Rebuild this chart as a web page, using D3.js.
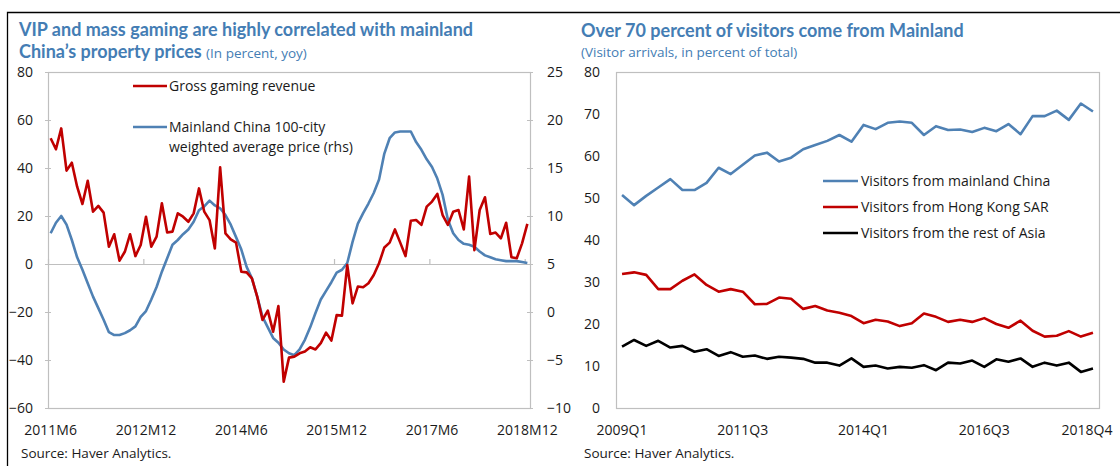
<!DOCTYPE html>
<html>
<head>
<meta charset="utf-8">
<script src="https://cdn.jsdelivr.net/npm/d3@7"></script>
<style>
	html, body { margin: 0; padding: 0; background: white; }
	#outer { width: 1120px; height: 466px; }
	text { font-family: 'Segoe UI', 'Open Sans', sans-serif; fill: #1a1a1a; }
	.title { font-family: 'Segoe UI', Lato, sans-serif; font-weight: 700; fill: #447db4; }
	.subtitle { fill: #447db4; }
</style>
</head>
<body>
<div id="outer"></div>
<script>

////////////////////////////////////////////////////////////////
	// DATA
////////////////////////////////////////////////////////////////

// LEFT PANEL: monthly, 2011M6 .. 2018M12 //
const gamingMonths = d3.range(91).map(i => {
	const m = 5 + i;
	return (2011 + Math.floor(m / 12)) + 'M' + (m % 12 + 1);
});
const gamingRevenue = [
	52.4, 47.8, 56.5, 38.9, 42.2, 32.2, 25.0, 34.7, 21.8, 24.2,
	21.4, 7.2, 12.4, 1.4, 5.1, 12.4, 3.3, 7.9, 19.7, 7.2,
	11.4, 25.3, 13.1, 13.5, 21.1, 19.7, 17.6, 21.1, 31.5, 21.8,
	18.3, 6.5, 40.3, 12.8, 10.3, 8.9, -3.2, -3.5, -6.0, -13.6,
	-23.3, -19.4, -28.2, -17.5, -49.0, -39.0, -38.6, -37.2, -36.5, -34.7,
	-35.6, -33.0, -28.6, -31.9, -21.3, -21.5, -0.4, -16.4, -9.4, -9.7,
	-8.0, -4.6, 0.3, 6.9, 8.9, 14.4, 8.9, 3.3, 18.0, 18.3,
	16.3, 23.9, 26.0, 29.2, 20.4, 16.3, 21.8, 22.5, 14.4, 36.4,
	5.8, 22.5, 27.8, 12.5, 13.1, 10.7, 17.2, 2.8, 2.4, 8.6,
	16.7
];
const propertyPrices = [
	8.2, 9.3, 10.0, 9.1, 7.5, 5.7, 4.4, 3.0, 1.6, 0.4,
	-0.8, -2.1, -2.4, -2.4, -2.2, -1.9, -1.5, -0.5, 0.1, 1.3,
	2.6, 4.2, 5.6, 7.0, 7.5, 8.1, 8.6, 9.4, 10.6, 11.0,
	11.6, 11.1, 10.8, 10.1, 9.1, 7.8, 6.5, 4.7, 3.5, 1.6,
	-0.5, -1.6, -2.7, -3.2, -3.9, -4.3, -4.5, -3.9, -2.9, -1.6,
	-0.1, 1.3, 2.2, 3.1, 4.1, 4.4, 5.1, 7.3, 9.2, 10.3,
	11.3, 12.4, 13.8, 16.5, 18.1, 18.7, 18.8, 18.8, 18.8, 17.7,
	16.9, 15.9, 15.1, 13.9, 12.2, 9.6, 8.2, 7.5, 7.1, 7.0,
	6.8, 6.3, 5.9, 5.7, 5.5, 5.4, 5.3, 5.3, 5.3, 5.2,
	5.1
];
const gamingTickLabels = ['2011M6', '2012M12', '2014M6', '2015M12', '2017M6', '2018M12'];
const gamingLeftTicks = [-60, -40, -20, 0, 20, 40, 60, 80];
const gamingRightTicks = [-10, -5, 0, 5, 10, 15, 20, 25];

// RIGHT PANEL: quarterly, 2009Q1 .. 2018Q4 //
const visitorQuarters = d3.range(40).map(i => (2009 + Math.floor(i / 4)) + 'Q' + (i % 4 + 1));
const mainlandShare = [
	50.7, 48.3, 50.5, 52.5, 54.5, 51.9, 51.9, 53.6, 57.2, 55.7,
	57.9, 60.1, 60.8, 58.7, 59.6, 61.6, 62.6, 63.6, 65.0, 63.4,
	67.4, 66.4, 67.9, 68.2, 67.9, 65.0, 67.1, 66.2, 66.3, 65.7,
	66.7, 65.9, 67.6, 65.2, 69.5, 69.5, 70.8, 68.6, 72.5, 70.6
];
const hongKongShare = [
	31.9, 32.3, 31.7, 28.3, 28.3, 30.3, 31.8, 29.3, 27.7, 28.3,
	27.7, 24.7, 24.8, 26.3, 26.0, 23.6, 24.3, 23.2, 22.7, 21.9,
	20.2, 21.0, 20.6, 19.5, 20.2, 22.5, 21.7, 20.5, 21.0, 20.5,
	21.4, 20.0, 19.1, 20.8, 18.4, 17.0, 17.2, 18.3, 17.0, 17.9
];
const restOfAsiaShare = [
	14.6, 16.2, 14.8, 16.0, 14.4, 14.8, 13.4, 14.0, 12.4, 13.3,
	12.2, 12.5, 11.7, 12.2, 12.0, 11.7, 10.8, 10.8, 10.1, 11.8,
	9.8, 10.1, 9.4, 9.8, 9.6, 10.2, 9.0, 10.8, 10.6, 11.3,
	9.8, 11.6, 11.0, 11.8, 9.8, 10.8, 10.1, 10.8, 8.6, 9.4
];
const visitorTickLabels = ['2009Q1', '2011Q3', '2014Q1', '2016Q3', '2018Q4'];
const visitorTicks = [0, 10, 20, 30, 40, 50, 60, 70, 80];

const visitorSeries = [
	{ name: 'Visitors from mainland China', values: mainlandShare, color: '#4f81b4' },
	{ name: 'Visitors from Hong Kong SAR', values: hongKongShare, color: '#c00000' },
	{ name: 'Visitors from the rest of Asia', values: restOfAsiaShare, color: '#000000' }
];


////////////////////////////////////////////////////////////////
	// SETUP
////////////////////////////////////////////////////////////////
const jqWidth = 1120;
const jqHeight = 466;

const colors = { red: '#c00000', blue: '#4f81b4', grid: '#bfbfbf' };
const lineWidth = 2.6;
const titleSize = '18px';

const leftPlot = { left: 48, right: 530, top: 72, bottom: 408 };
const rightPlot = { left: 616, right: 1099, top: 72, bottom: 408 };

const svg = d3.select('#outer').append('svg')
	.attr('width', jqWidth)
	.attr('height', jqHeight);

// OUTER FRAME //
svg.append('path')
	.attr('d', `M7.5,${jqHeight} V12.5 H${jqWidth}`)
	.attr('fill', 'none')
	.attr('stroke', '#000')
	.attr('stroke-width', 1.3);


////////////////////////////////////////////////////////////////
	// LEFT PANEL
////////////////////////////////////////////////////////////////
const leftGroup = svg.append('g').attr('class', 'leftPanel');

leftGroup.append('text').attr('class', 'title')
	.attr('x', 19).attr('y', 36).style('font-size', titleSize)
	.text('VIP and mass gaming are highly correlated with mainland');
const leftTitle2 = leftGroup.append('text').attr('class', 'title')
	.attr('x', 19).attr('y', 58).style('font-size', titleSize);
leftTitle2.append('tspan').text('China\u2019s property prices ');
leftTitle2.append('tspan').attr('class', 'subtitle')
	.style('font-weight', 400).style('font-size', '13.5px')
	.style('font-family', "'Segoe UI', 'Open Sans', sans-serif")
	.text('(In percent, yoy)');

const xLeft = d3.scaleBand().domain(gamingMonths).range([leftPlot.left, leftPlot.right]).padding(0);
const yLeft = d3.scaleLinear().domain([-60, 80]).range([leftPlot.bottom, leftPlot.top]);
const yRightAxis = d3.scaleLinear().domain([-10, 25]).range([leftPlot.bottom, leftPlot.top]);
const cxLeft = d => xLeft(d) + xLeft.bandwidth() / 2;

// plot frame
leftGroup.append('rect')
	.attr('x', leftPlot.left + 0.5).attr('y', leftPlot.top + 0.5)
	.attr('width', leftPlot.right - leftPlot.left).attr('height', leftPlot.bottom - leftPlot.top)
	.attr('fill', 'none').attr('stroke', colors.grid).attr('stroke-width', 1.2);

// y axes
const leftAxis = leftGroup.append('g')
	.attr('transform', `translate(${leftPlot.left},0)`)
	.call(d3.axisLeft(yLeft).tickValues(gamingLeftTicks).tickSize(3).tickPadding(12));
const rightAxis = leftGroup.append('g')
	.attr('transform', `translate(${leftPlot.right},0)`)
	.call(d3.axisRight(yRightAxis).tickValues(gamingRightTicks).tickSize(3).tickPadding(14));
[leftAxis, rightAxis].forEach(ax => {
	ax.select('.domain').remove();
	ax.selectAll('line').attr('stroke', colors.grid).attr('x1', ax === leftAxis ? 3 : -3);
	ax.selectAll('text').style('font-size', '14px').attr('fill', '#1a1a1a');
});

// zero line with upward ticks
const zeroY = yLeft(0);
leftGroup.append('line')
	.attr('x1', leftPlot.left).attr('x2', leftPlot.right)
	.attr('y1', zeroY + 0.5).attr('y2', zeroY + 0.5)
	.attr('stroke', colors.grid).attr('stroke-width', 1.2);
leftGroup.selectAll('.xtick').data(gamingTickLabels)
	.join('line').attr('class', 'xtick')
	.attr('x1', d => xLeft(d) + 0.5).attr('x2', d => xLeft(d) + 0.5)
	.attr('y1', zeroY - 5).attr('y2', zeroY)
	.attr('stroke', colors.grid).attr('stroke-width', 1.2);

// x labels
const bottomAxis = leftGroup.append('g')
	.attr('transform', `translate(0,${leftPlot.bottom})`)
	.call(d3.axisBottom(xLeft).tickValues(gamingTickLabels).tickSize(0).tickPadding(17));
bottomAxis.select('.domain').remove();
bottomAxis.selectAll('text').style('font-size', '14px').attr('fill', '#1a1a1a');

// lines
leftGroup.append('path')
	.datum(propertyPrices)
	.attr('fill', 'none').attr('stroke', colors.blue).attr('stroke-width', lineWidth)
	.attr('stroke-linejoin', 'round')
	.attr('d', d3.line().x((d, i) => cxLeft(gamingMonths[i])).y(d => yRightAxis(d)));
leftGroup.append('path')
	.datum(gamingRevenue)
	.attr('fill', 'none').attr('stroke', colors.red).attr('stroke-width', lineWidth)
	.attr('stroke-linejoin', 'round')
	.attr('d', d3.line().x((d, i) => cxLeft(gamingMonths[i])).y(d => yLeft(d)));

// legend
const leftLegend = leftGroup.append('g').attr('class', 'legend');
leftLegend.append('line').attr('x1', 133).attr('x2', 167).attr('y1', 86).attr('y2', 86)
	.attr('stroke', colors.red).attr('stroke-width', lineWidth);
leftLegend.append('text').attr('x', 169).attr('y', 91).style('font-size', '14px')
	.text('Gross gaming revenue');
leftLegend.append('line').attr('x1', 133).attr('x2', 167).attr('y1', 127).attr('y2', 127)
	.attr('stroke', colors.blue).attr('stroke-width', lineWidth);
leftLegend.append('text').attr('x', 169).attr('y', 132).style('font-size', '14px')
	.text('Mainland China 100-city');
leftLegend.append('text').attr('x', 169).attr('y', 152).style('font-size', '14px')
	.text('weighted average price (rhs)');

leftGroup.append('text').attr('x', 21).attr('y', 458).style('font-size', '13.5px')
	.text('Source:  Haver Analytics.');


////////////////////////////////////////////////////////////////
	// RIGHT PANEL
////////////////////////////////////////////////////////////////
const rightGroup = svg.append('g').attr('class', 'rightPanel');

rightGroup.append('text').attr('class', 'title')
	.attr('x', 581).attr('y', 37).style('font-size', titleSize)
	.text('Over 70 percent of visitors come from Mainland');
rightGroup.append('text').attr('class', 'subtitle')
	.attr('x', 581).attr('y', 57).style('font-size', '13.5px')
	.text('(Visitor arrivals, in percent of total)');

const xRight = d3.scaleBand().domain(visitorQuarters).range([rightPlot.left, rightPlot.right]).padding(0);
const yRight = d3.scaleLinear().domain([0, 80]).range([rightPlot.bottom, rightPlot.top]);
const cxRight = d => xRight(d) + xRight.bandwidth() / 2;

rightGroup.append('rect')
	.attr('x', rightPlot.left + 0.5).attr('y', rightPlot.top + 0.5)
	.attr('width', rightPlot.right - rightPlot.left).attr('height', rightPlot.bottom - rightPlot.top)
	.attr('fill', 'none').attr('stroke', colors.grid).attr('stroke-width', 1.2);

const visitorAxis = rightGroup.append('g')
	.attr('transform', `translate(${rightPlot.left},0)`)
	.call(d3.axisLeft(yRight).tickValues(visitorTicks).tickSize(0).tickPadding(16));
visitorAxis.select('.domain').remove();
visitorAxis.selectAll('text').style('font-size', '14px').attr('fill', '#1a1a1a');

const quarterAxis = rightGroup.append('g')
	.attr('transform', `translate(0,${rightPlot.bottom})`)
	.call(d3.axisBottom(xRight).tickValues(visitorTickLabels).tickSize(0).tickPadding(17));
quarterAxis.select('.domain').remove();
quarterAxis.selectAll('text').style('font-size', '14px').attr('fill', '#1a1a1a')
	.attr('dx', d => d === '2018Q4' ? -6 : 0);

visitorSeries.forEach(s => {
	rightGroup.append('path')
		.datum(s.values)
		.attr('fill', 'none').attr('stroke', s.color).attr('stroke-width', lineWidth)
		.attr('stroke-linejoin', 'round')
		.attr('d', d3.line().x((d, i) => cxRight(visitorQuarters[i])).y(d => yRight(d)));
});

const rightLegend = rightGroup.append('g').attr('class', 'legend');
visitorSeries.forEach((s, i) => {
	const y = 181 + i * 26;
	rightLegend.append('line').attr('x1', 823).attr('x2', 858).attr('y1', y).attr('y2', y)
		.attr('stroke', s.color).attr('stroke-width', lineWidth);
	rightLegend.append('text').attr('x', 861).attr('y', y + 5).style('font-size', '14px')
		.text(s.name);
});

rightGroup.append('text').attr('x', 584).attr('y', 458).style('font-size', '13.5px')
	.text('Source:  Haver Analytics.');

</script>
</body>
</html>
